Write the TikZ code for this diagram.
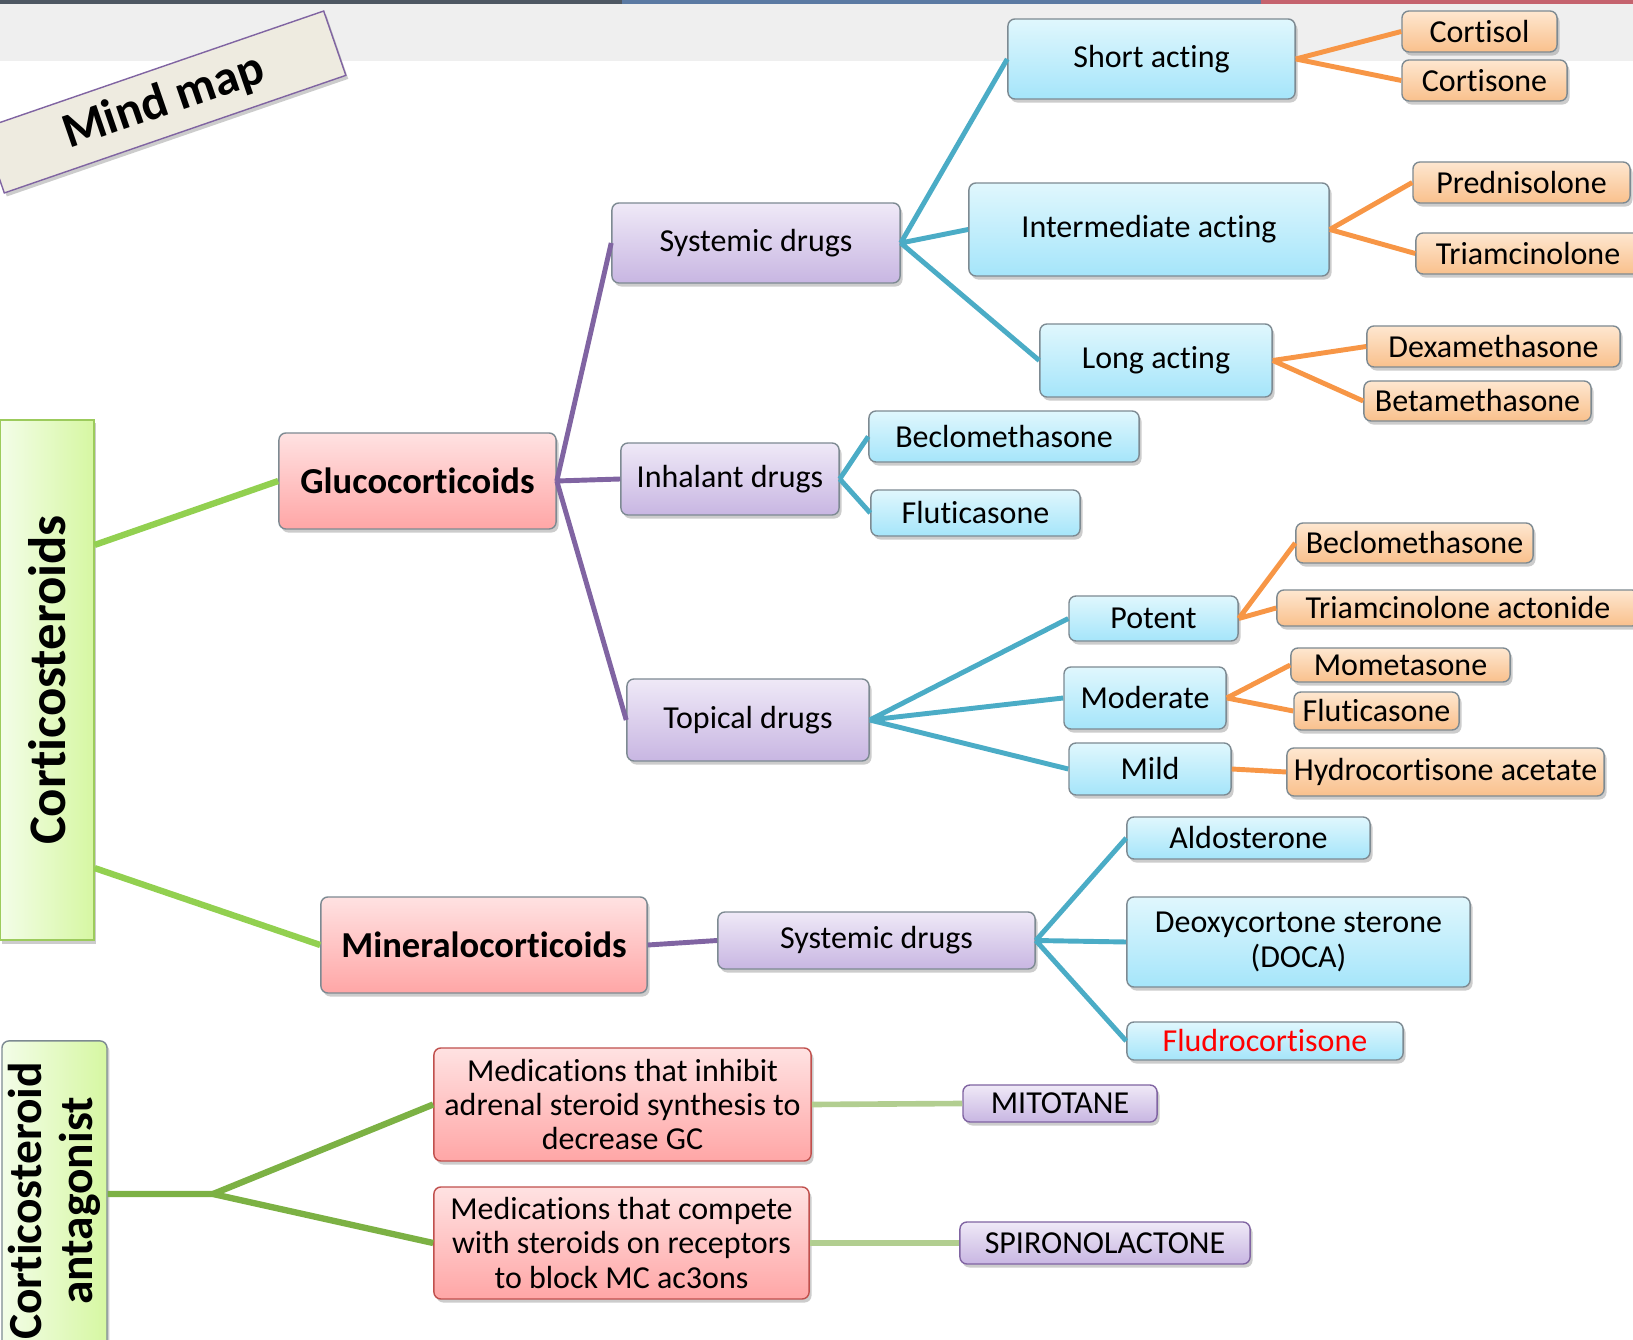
\documentclass[tikz,border=0pt]{standalone}
\usepackage{fontspec}
\setmainfont{Carlito}[Ligatures={NoCommon}]
\usepackage{tikz}
\usetikzlibrary{shadows}
\definecolor{Lilac}{HTML}{8064A2}
\definecolor{Teal}{HTML}{4BACC6}
\definecolor{Orange}{HTML}{F79646}
\definecolor{Leaf}{HTML}{92D050}
\definecolor{Sage}{HTML}{B2CE90}
\definecolor{Olive}{HTML}{9CCB5C}
\definecolor{Frame}{HTML}{7D8A92}
\definecolor{Brick}{HTML}{C0504D}
\definecolor{Band}{HTML}{EFEFEF}
\definecolor{Slate}{HTML}{4E5863}
\definecolor{Steel}{HTML}{5B7AA3}
\definecolor{Rose}{HTML}{C5636E}
\definecolor{Paper}{HTML}{EEEBE0}
\definecolor{Alert}{HTML}{FF0000}
\definecolor{BlueTop}{HTML}{E0F7FD}
\definecolor{BlueBot}{HTML}{A5E5FA}
\definecolor{PeachTop}{HTML}{FEE7D0}
\definecolor{PeachBot}{HTML}{F9C08C}
\definecolor{LilacTop}{HTML}{EFE9F7}
\definecolor{LilacBot}{HTML}{C8B6E2}
\definecolor{PinkTop}{HTML}{FFE2E2}
\definecolor{PinkBot}{HTML}{FFA6A6}
\definecolor{GreenTop}{HTML}{F3FDE8}
\definecolor{GreenBot}{HTML}{D6F7A2}

\begin{document}
\begin{tikzpicture}[x=0.01cm,y=-0.01cm,
    box/.style={rounded corners=2pt,inner sep=0pt,align=center,draw=Frame,
      font=\fontsize{9.1}{9.8}\selectfont,
      drop shadow={shadow xshift=.7pt,shadow yshift=-1pt,opacity=.4}},
    bluebox/.style={box,top color=BlueTop,bottom color=BlueBot},
    orangebox/.style={box,top color=PeachTop,bottom color=PeachBot},
    lilacbox/.style={box,top color=LilacTop,bottom color=LilacBot},
    pinkbox/.style={box,top color=PinkTop,bottom color=PinkBot},
    sidebox/.style={box,rotate=90,top color=GreenTop,bottom color=GreenBot,
      shading angle=90},
    link/.style={line width=1.4pt},
    bluelink/.style={link,Teal},
    orangelink/.style={link,Orange},
    purplelink/.style={link,Lilac},
    greenlink/.style={link,Leaf,line width=1.8pt},
    sagelink/.style={link,Sage,line width=1.6pt}
  ]
    \clip (0,0) rectangle (1633,1340);
    % header strip
    \fill[Band] (0,0) rectangle (1633,61);
    \fill[Slate] (0,0) rectangle (622,4);
    \fill[Steel] (622,0) rectangle (1261,4);
    \fill[Rose] (1261,0) rectangle (1633,4);

    \node[draw=Lilac,fill=Paper,rotate=19,inner sep=0pt,minimum width=3.61cm,
      minimum height=.68cm,font=\fontsize{14}{15}\selectfont\bfseries,
      drop shadow={shadow xshift=.7pt,shadow yshift=-1pt,opacity=.4}]
      (title) at (164,102) {Mind map};

    % left column
    \node[sidebox,draw=Olive,rounded corners=0pt,minimum width=5.2cm,minimum height=.94cm,
      font=\fontsize{15}{17}\selectfont\bfseries] (cort) at (47,680) {Corticosteroids};
    \node[sidebox,minimum width=3.2cm,minimum height=1.05cm,
      font=\fontsize{13.5}{14.5}\selectfont\bfseries] (antag) at (54.5,1201)
      {Corticosteroid\\antagonist};

    % main groups
    \node[pinkbox,minimum width=2.77cm,minimum height=.96cm,
      font=\fontsize{10.4}{12}\selectfont\bfseries] (gluco) at (417.5,481) {Glucocorticoids};
    \node[pinkbox,minimum width=3.26cm,minimum height=.96cm,
      font=\fontsize{10.4}{12}\selectfont\bfseries] (mineral) at (484,945) {Mineralocorticoids};

    \node[lilacbox,minimum width=2.88cm,minimum height=.80cm] (sysg) at (756,243) {Systemic drugs};
    \node[lilacbox,minimum width=2.18cm,minimum height=.72cm] (inhal) at (730,479) {Inhalant drugs};
    \node[lilacbox,minimum width=2.42cm,minimum height=.82cm] (topic) at (748,720) {Topical drugs};
    \node[lilacbox,minimum width=3.17cm,minimum height=.57cm] (sysm) at (876.5,940.5) {Systemic drugs};

    % systemic
    \node[bluebox,minimum width=2.87cm,minimum height=.80cm] (short) at (1151.5,59) {Short acting};
    \node[bluebox,minimum width=3.60cm,minimum height=.93cm] (inter) at (1149,229.5) {Intermediate acting};
    \node[bluebox,minimum width=2.32cm,minimum height=.73cm] (long) at (1156,360.5) {Long acting};
    \node[orangebox,minimum width=1.55cm,minimum height=.41cm] (cortisol) at (1479.5,31.5) {Cortisol};
    \node[orangebox,minimum width=1.65cm,minimum height=.41cm] (cortisone) at (1484.5,80.5) {Cortisone};
    \node[orangebox,minimum width=2.17cm,minimum height=.41cm] (pred) at (1521.5,182.5) {Prednisolone};
    \node[orangebox,minimum width=2.24cm,minimum height=.41cm] (triam) at (1528,253.5) {Triamcinolone};
    \node[orangebox,minimum width=2.53cm,minimum height=.41cm] (dexa) at (1493.5,346.5) {Dexamethasone};
    \node[orangebox,minimum width=2.27cm,minimum height=.40cm] (beta) at (1477.5,401) {Betamethasone};

    % inhalant
    \node[bluebox,minimum width=2.70cm,minimum height=.51cm] (becinh) at (1004,436.5) {Beclomethasone};
    \node[bluebox,minimum width=2.09cm,minimum height=.46cm] (fluinh) at (975.5,513) {Fluticasone};

    % topical
    \node[bluebox,minimum width=1.69cm,minimum height=.45cm] (potent) at (1153.5,618.5) {Potent};
    \node[bluebox,minimum width=1.62cm,minimum height=.62cm] (moder) at (1145,698) {Moderate};
    \node[bluebox,minimum width=1.62cm,minimum height=.52cm] (mild) at (1150,769) {Mild};
    \node[orangebox,minimum width=2.37cm,minimum height=.40cm] (bectop) at (1414.5,543) {Beclomethasone};
    \node[orangebox,minimum width=3.62cm,minimum height=.36cm] (triact) at (1458,608) {Triamcinolone actonide};
    \node[orangebox,minimum width=2.19cm,minimum height=.34cm] (momet) at (1400.5,665) {Mometasone};
    \node[orangebox,minimum width=1.65cm,minimum height=.38cm] (flutop) at (1376.5,711) {Fluticasone};
    \node[orangebox,minimum width=3.17cm,minimum height=.48cm] (hydro) at (1445.5,772) {Hydrocortisone acetate};

    % mineralocorticoid drugs
    \node[bluebox,minimum width=2.43cm,minimum height=.42cm] (aldo) at (1248.5,838) {Aldosterone};
    \node[bluebox,minimum width=3.43cm,minimum height=.90cm] (doca) at (1298.5,942)
      {Deoxycortone sterone\\(DOCA)};
    \node[bluebox,minimum width=2.76cm,minimum height=.38cm,text=Alert] (fludro) at (1265,1041) {Fludrocortisone};

    % antagonists
    \node[pinkbox,draw=Brick,minimum width=3.77cm,minimum height=1.13cm] (inhibit) at (622.5,1104.5)
      {Medications that inhibit\\adrenal steroid synthesis to\\decrease GC};
    \node[pinkbox,draw=Brick,minimum width=3.75cm,minimum height=1.12cm] (compete) at (621.5,1243)
      {Medications that compete\\with steroids on receptors\\to block MC ac3ons};
    \node[lilacbox,draw=Lilac,minimum width=1.94cm,minimum height=.37cm] (mitot) at (1060,1103.5) {MITOTANE};
    \node[lilacbox,draw=Lilac,minimum width=2.90cm,minimum height=.42cm] (spiro) at (1105,1243) {SPIRONOLACTONE};
    \coordinate (fork) at (213,1194);

    % connectors
    \draw[greenlink] ([yshift=1.35cm]cort.south) -- (gluco.west);
    \draw[greenlink] ([yshift=-1.88cm]cort.south) -- (mineral.west);
    \draw[purplelink] (gluco.east) -- (sysg.west) (gluco.east) -- (inhal.west)
      (gluco.east) -- (topic.west);
    \draw[purplelink] (mineral.east) -- (sysm.west);
    \draw[bluelink] (sysg.east) -- (short.west) (sysg.east) -- (inter.west)
      (sysg.east) -- (long.west);
    \draw[bluelink] (inhal.east) -- (becinh.west) (inhal.east) -- (fluinh.west);
    \draw[bluelink] (topic.east) -- (potent.west) (topic.east) -- (moder.west)
      (topic.east) -- (mild.west);
    \draw[bluelink] (sysm.east) -- (aldo.west) (sysm.east) -- (doca.west)
      (sysm.east) -- (fludro.west);
    \draw[orangelink] (short.east) -- (cortisol.west) (short.east) -- (cortisone.west);
    \draw[orangelink] (inter.east) -- (pred.west) (inter.east) -- (triam.west);
    \draw[orangelink] (long.east) -- (dexa.west) (long.east) -- (beta.west);
    \draw[orangelink] (potent.east) -- (bectop.west) (potent.east) -- (triact.west);
    \draw[orangelink] (moder.east) -- (momet.west) (moder.east) -- (flutop.west);
    \draw[orangelink] (mild.east) -- (hydro.west);
    \draw[greenlink,Leaf!85!black] ([yshift=.07cm]antag.south) -- (fork);
    \draw[greenlink,Leaf!85!black] (fork) -- (inhibit.west) (fork) -- (compete.west);
    \draw[sagelink] (inhibit.east) -- (mitot.west);
    \draw[sagelink] (compete.east) -- (spiro.west);
  \end{tikzpicture}
\end{document}
